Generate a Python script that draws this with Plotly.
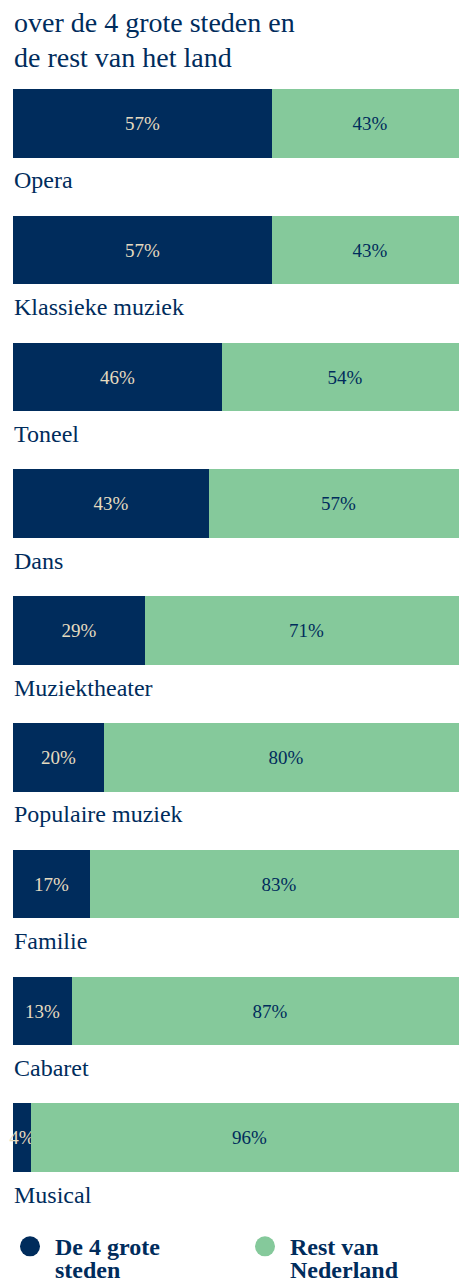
import plotly.graph_objects as go

categories = ["Opera", "Klassieke muziek", "Toneel", "Dans", "Muziektheater",
              "Populaire muziek", "Familie", "Cabaret", "Musical"]
grote_steden = [57, 57, 46, 43, 29, 20, 17, 13, 4]
rest_nl = [43, 43, 54, 57, 71, 80, 83, 87, 96]
series_names = [["De 4 grote", "steden"], ["Rest van", "Nederland"]]
subtitle_lines = ["over de 4 grote steden en", "de rest van het land"]

NAVY = "#002c5c"
GREEN = "#85c99b"
CREAM = "#e6dcc0"
FONT = "Liberation Serif"

ypos = list(range(len(categories)))

# geometry (page pixels)
PLOT_L = 5            # plot area left edge
ZERO_X = 13           # where value 0 sits
FULL_X = 468          # where value 100 sits
PLOT_R = 459
PLOT_T, PLOT_B = 60, 1200.7
px_per_unit = (FULL_X - ZERO_X) / 100.0
x_range = [-(ZERO_X - PLOT_L) / px_per_unit, (PLOT_R - ZERO_X) / px_per_unit]

fig = go.Figure()
fig.add_trace(go.Bar(
    y=ypos, x=grote_steden, orientation="h", marker=dict(color=NAVY, line=dict(width=0)),
    text=[f"{v}%" for v in grote_steden], textposition="inside", insidetextanchor="middle",
    constraintext="none", textangle=0, insidetextfont=dict(family=FONT, size=19, color=CREAM),
    width=0.54, showlegend=False, hoverinfo="skip"))
fig.add_trace(go.Bar(
    y=ypos, x=rest_nl, orientation="h", marker=dict(color=GREEN, line=dict(width=0)),
    text=[f"{v}%" for v in rest_nl], textposition="inside", insidetextanchor="middle",
    constraintext="none", textangle=0, insidetextfont=dict(family=FONT, size=19, color=NAVY),
    width=0.54, showlegend=False, hoverinfo="skip"))

annotations = []
for i, cat in enumerate(categories):
    annotations.append(dict(x=0, xref="x", y=i, yref="y", text=cat, showarrow=False,
                            xanchor="left", yanchor="middle", yshift=-57, xshift=-1,
                            font=dict(family=FONT, size=24, color=NAVY)))
for j, line in enumerate(subtitle_lines):
    annotations.append(dict(x=0, xref="x", y=1, yref="paper", text=line, showarrow=False,
                            xanchor="left", yanchor="middle", yshift=38 - 35 * j, xshift=-1,
                            font=dict(family=FONT, size=28, color=NAVY)))

# manual legend
PLOT_W = PLOT_R - PLOT_L
def px_x(x):
    return (x - PLOT_L) / PLOT_W
def px_y(y):
    return (PLOT_B - y) / (PLOT_B - PLOT_T)

shapes = []
legend_x_circle = [px_x(30), px_x(265)]
legend_x_text = [px_x(53), px_x(288)]
legend_y = px_y(1246)
for k, (col, lines) in enumerate(zip([NAVY, GREEN], series_names)):
    shapes.append(dict(type="circle", xref="paper", yref="paper",
                       xsizemode="pixel", ysizemode="pixel",
                       xanchor=legend_x_circle[k], yanchor=legend_y,
                       x0=-10, x1=10, y0=-10, y1=10,
                       fillcolor=col, line=dict(width=0)))
    for j, ln in enumerate(lines):
        annotations.append(dict(x=legend_x_text[k], xref="paper", y=legend_y, yref="paper",
                                text=f"<b>{ln}</b>", showarrow=False, xanchor="left",
                                yanchor="middle", yshift=-1 - 23 * j,
                                font=dict(family=FONT, size=24, color=NAVY)))

fig.update_layout(
    width=459, height=1279,
    margin=dict(l=PLOT_L, r=459 - PLOT_R, t=PLOT_T, b=1279 - PLOT_B, autoexpand=False),
    paper_bgcolor="white", plot_bgcolor="white",
    barmode="stack", bargap=0,
    xaxis=dict(range=x_range, visible=False, fixedrange=True),
    yaxis=dict(range=[8.5, -0.5], visible=False, fixedrange=True),
    annotations=annotations,
    shapes=shapes,
    showlegend=False,
    font=dict(family=FONT, color=NAVY),
)

fig.write_html("out.html", config={"displayModeBar": False},
               post_script="document.body.style.margin='0';document.body.style.overflow='hidden';")
